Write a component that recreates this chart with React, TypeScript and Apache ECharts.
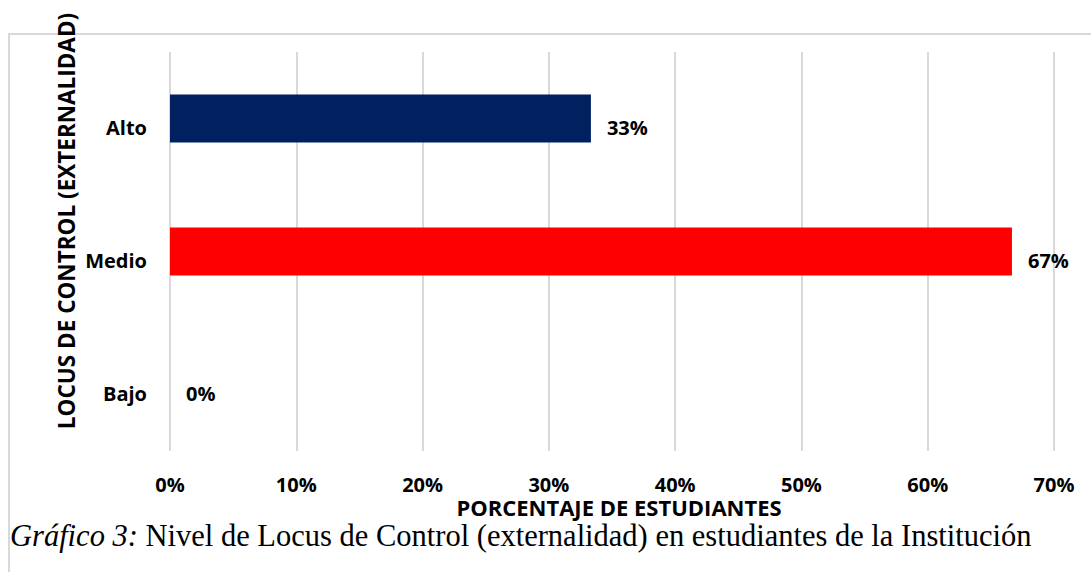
import React, { useEffect, useRef } from "react";
import * as echarts from "echarts";

const categories = ["Bajo", "Medio", "Alto"];
const values = [0, 0.6667, 0.3333];
const barColors = ["#ff0000", "#ff0000", "#002060"];
const xTicks = [0, 0.1, 0.2, 0.3, 0.4, 0.5, 0.6, 0.7];
const yTitle = "LOCUS DE CONTROL (EXTERNALIDAD)";
const xTitle = "PORCENTAJE DE ESTUDIANTES";
const captionItalic = "Gráfico 3:";
const captionText = " Nivel de Locus de Control (externalidad) en estudiantes de la Institución";

const FONT = "'Open Sans', 'Noto Sans', sans-serif";
const SERIF = "'Liberation Serif', 'Times New Roman', serif";

export default function App() {
  const ref = useRef<HTMLDivElement>(null);
  useEffect(() => {
    if (!ref.current) return;
    const chart = echarts.init(ref.current, null, { renderer: "svg" });
    chart.setOption({
      animation: false,
      backgroundColor: "#ffffff",
      grid: { left: 170, right: 37, top: 52, bottom: 121, containLabel: false },
      xAxis: {
        type: "value",
        min: xTicks[0],
        max: xTicks[xTicks.length - 1],
        interval: 0.1,
        axisLine: { show: false },
        axisTick: { show: false },
        splitLine: { show: true, lineStyle: { color: "#d9d9d9", width: 2 } },
        axisLabel: {
          formatter: (v: number) => Math.round(v * 100) + "%",
          fontFamily: FONT,
          fontWeight: "bold",
          fontSize: 20,
          color: "#000",
          margin: 23,
        },
      },
      yAxis: {
        type: "category",
        data: categories,
        axisLine: { show: false },
        axisTick: { show: false },
        splitLine: { show: false },
        axisLabel: {
          fontFamily: FONT,
          fontWeight: "bold",
          fontSize: 20,
          color: "#000",
          margin: 23,
          verticalAlign: "top",
          lineHeight: 18,
        },
      },
      series: [
        {
          type: "bar",
          barWidth: 48,
          data: values.map((v, i) => ({ value: v, itemStyle: { color: barColors[i] } })),
          label: {
            show: true,
            position: "right",
            distance: 16,
            offset: [0, 9],
            formatter: (p: any) => Math.round(p.value * 100) + "%",
            fontFamily: FONT,
            fontWeight: "bold",
            fontSize: 20,
            color: "#000",
          },
        },
      ],
      graphic: [
        {
          type: "rect",
          shape: { x: 9, y: 34, width: 1200, height: 700 },
          style: { fill: "none", stroke: "#d9d9d9", lineWidth: 2 },
          z: -1,
        },
        {
          type: "text",
          x: 66,
          y: 221,
          rotation: Math.PI / 2,
          style: {
            text: yTitle,
            fontFamily: FONT,
            fontWeight: "bold",
            fontSize: 22.5,
            fill: "#000",
            align: "center",
            verticalAlign: "middle",
          },
        },
        {
          type: "text",
          x: 619,
          y: 507,
          style: {
            text: xTitle,
            fontFamily: FONT,
            fontWeight: "bold",
            fontSize: 22,
            fill: "#000",
            align: "center",
            verticalAlign: "middle",
          },
        },
        {
          type: "text",
          x: 10,
          y: 536,
          style: {
            text: "{i|" + captionItalic + "}{n|" + captionText + "}",
            verticalAlign: "middle",
            align: "left",
            rich: {
              i: { fontFamily: SERIF, fontStyle: "italic", fontSize: 30.5, fill: "#000" },
              n: { fontFamily: SERIF, fontSize: 30.5, fill: "#000" },
            },
          },
        },
      ],
    });
    return () => chart.dispose();
  }, []);
  return (
    <div
      ref={ref}
      style={{ position: "absolute", left: 0, top: 0, width: 1091, height: 572, background: "#fff" }}
    />
  );
}
